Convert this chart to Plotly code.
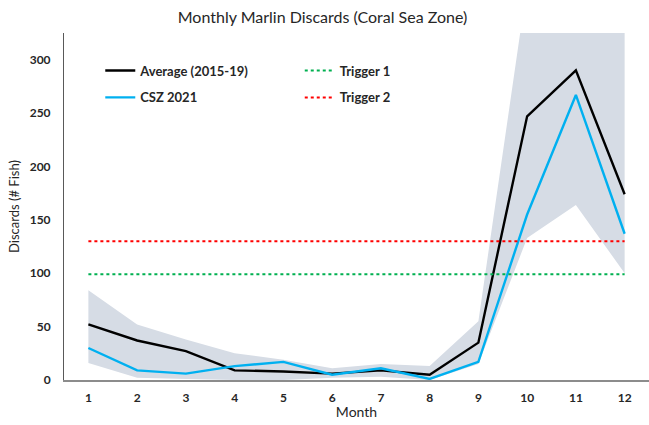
import plotly.graph_objects as go

# Monthly marlin discards, Coral Sea Zone
months = [1, 2, 3, 4, 5, 6, 7, 8, 9, 10, 11, 12]
avg_2015_19 = [52, 37, 27, 9, 8, 6, 9, 5, 35, 247, 290, 174]
csz_2021 = [30, 9, 6, 13, 17, 5, 11, 1, 17, 155, 267, 137]
range_upper = [84, 52, 38, 25, 19, 11, 15, 13, 55, 370, 420, 360]
range_lower = [16, 2, 1, 0, 0, 2, 3, 0, 15, 133, 164, 100]
trigger_1 = 99
trigger_2 = 130

FONT = "Lato"
TXT = "#262626"

fig = go.Figure()

# min-max envelope of the 2015-19 reference years
fig.add_trace(go.Scatter(x=months, y=range_upper, mode="lines", line=dict(width=0),
                         hoverinfo="skip", showlegend=False))
fig.add_trace(go.Scatter(x=months, y=range_lower, mode="lines", line=dict(width=0),
                         fill="tonexty", fillcolor="#D6DCE5", hoverinfo="skip",
                         showlegend=False))

fig.add_trace(go.Scatter(x=months, y=avg_2015_19, mode="lines", name="Average (2015-19)",
                         line=dict(color="black", width=2.4), legend="legend",
                         legendgroup="a"))
fig.add_trace(go.Scatter(x=months, y=csz_2021, mode="lines", name="CSZ 2021",
                         line=dict(color="#00B0F0", width=2.4), legend="legend",
                         legendgroup="b"))
fig.add_trace(go.Scatter(x=months, y=[trigger_1] * len(months), mode="lines",
                         name="Trigger 1", line=dict(color="#00B050", width=2, dash="dot"),
                         legend="legend2", legendgroup="c"))
fig.add_trace(go.Scatter(x=months, y=[trigger_2] * len(months), mode="lines",
                         name="Trigger 2", line=dict(color="#FF0000", width=2, dash="dot"),
                         legend="legend2", legendgroup="d"))

legend_style = dict(font=dict(family=FONT, size=13, color=TXT, weight="bold"),
                    bgcolor="rgba(0,0,0,0)", tracegroupgap=7, itemwidth=30,
                    xanchor="left", yanchor="top")

fig.update_layout(
    width=649, height=425,
    margin=dict(l=64, r=0, t=33, b=45),
    paper_bgcolor="white", plot_bgcolor="white",
    title=dict(text="Monthly Marlin Discards (Coral Sea Zone)", x=0.497, xanchor="center",
               y=0.958, yanchor="middle", font=dict(family=FONT, size=16, color=TXT)),
    legend=dict(x=0.062, y=0.935, **legend_style),
    legend2=dict(x=0.403, y=0.935, **legend_style),
    xaxis=dict(range=[0.5, 12.5], tickmode="array", tickvals=months,
               ticktext=[str(m) for m in months], showgrid=False, zeroline=False,
               showline=True, linecolor="#8C8C8C", linewidth=2, ticks="", ticklen=0,
               ticklabelstandoff=6,
               tickfont=dict(family=FONT, size=12, color=TXT, weight="bold"),
               title=dict(text="Month", font=dict(family=FONT, size=14, color=TXT),
                          standoff=3)),
    yaxis=dict(range=[0, 325], tickvals=[0, 50, 100, 150, 200, 250, 300],
               showgrid=False, zeroline=False, showline=True, linecolor="#595959",
               linewidth=1, ticks="", ticklabelstandoff=10,
               tickfont=dict(family=FONT, size=12, color=TXT, weight="bold"),
               title=dict(text="Discards (# Fish)", font=dict(family=FONT, size=13, color=TXT),
                          standoff=7)),
)

fig.write_html("out.html")
